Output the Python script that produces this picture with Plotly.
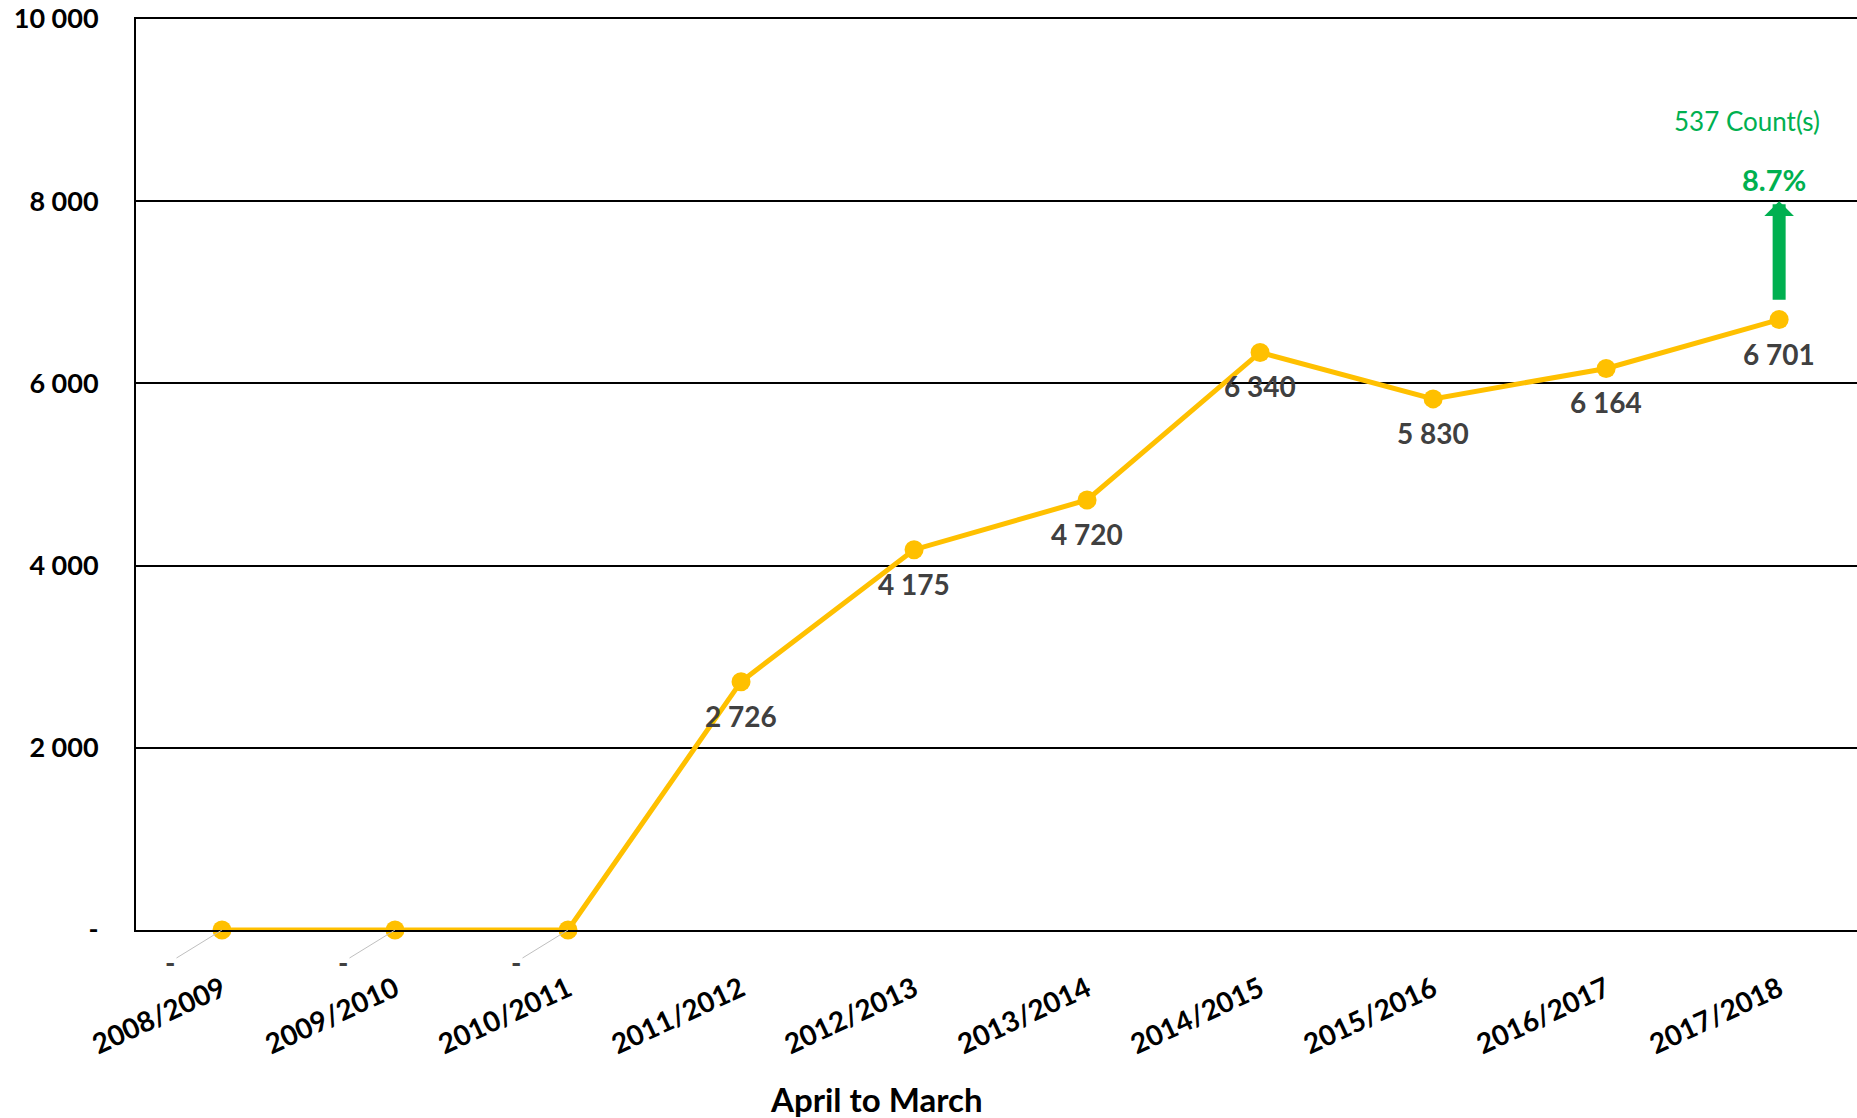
import plotly.graph_objects as go

categories = ["2008/2009", "2009/2010", "2010/2011", "2011/2012", "2012/2013",
              "2013/2014", "2014/2015", "2015/2016", "2016/2017", "2017/2018"]
values = [0, 0, 0, 2726, 4175, 4720, 6340, 5830, 6164, 6701]
y_tickvals = [0, 2000, 4000, 6000, 8000, 10000]
y_ticktext = ["-", "2 000", "4 000", "6 000", "8 000", "10 000"]

FONT = "Lato, 'Open Sans', sans-serif"
GOLD = "#FFC000"
GREEN = "#00B050"
LABEL = "#404040"


def fmt(v):
    return "-" if v == 0 else f"{v:,}".replace(",", " ")


fig = go.Figure()
fig.add_trace(go.Scatter(
    x=categories, y=values, mode="lines+markers",
    line=dict(color=GOLD, width=5),
    marker=dict(color=GOLD, size=19),
    cliponaxis=False, hoverinfo="x+y", showlegend=False,
))

annotations = []
for c, v in zip(categories, values):
    if v == 0:
        annotations.append(dict(
            x=c, y=v, text="<b>-</b>", showarrow=True, ax=-52, ay=32,
            arrowhead=0, arrowwidth=1, arrowcolor="#BFBFBF",
            font=dict(family=FONT, size=28, color=LABEL)))
    else:
        annotations.append(dict(
            x=c, y=v, text=f"<b>{fmt(v)}</b>", showarrow=False, yshift=-34,
            font=dict(family=FONT, size=28, color=LABEL)))

diff = values[-1] - values[-2]
pct = diff / values[-2] * 100
annotations += [
    dict(x=categories[-1], y=8000, text="", showarrow=True, ax=0, ay=100,
         arrowhead=1, arrowwidth=13, arrowsize=0.38, arrowcolor=GREEN),
    dict(x=categories[-1], y=8233, text=f"<b>{pct:.1f}%</b>", showarrow=False,
         xshift=-5, font=dict(family=FONT, size=29, color=GREEN)),
    dict(x=categories[-1], y=8880, text=f"{diff} Count(s)", showarrow=False,
         xshift=-32, font=dict(family=FONT, size=26, color=GREEN)),
    dict(xref="paper", yref="paper", x=0.43, y=-0.1855, yanchor="middle",
         text="<b>April to March</b>", showarrow=False,
         font=dict(family=FONT, size=33, color="black")),
]

fig.update_layout(
    width=1857, height=1118,
    margin=dict(l=136, r=0, t=19, b=188),
    paper_bgcolor="white", plot_bgcolor="white",
    annotations=annotations,
    xaxis=dict(
        type="category", range=[-0.497, 9.45],
        showline=True, linecolor="black", linewidth=2, mirror=True,
        showgrid=False, ticks="", tickangle=-25, ticklabelstandoff=30,
        tickfont=dict(family=FONT, size=28, color="black", weight="bold"),
    ),
    yaxis=dict(
        range=[0, 10000], tickvals=y_tickvals, ticktext=y_ticktext,
        showline=True, linecolor="black", linewidth=2,
        showgrid=True, gridcolor="black", gridwidth=1.5,
        zeroline=False, ticks="", ticklabelstandoff=30,
        tickfont=dict(family=FONT, size=27, color="black", weight="bold"),
    ),
)

fig.write_html(
    "out.html",
    config={"displayModeBar": False},
    post_script="document.body.style.margin='0';document.body.style.overflow='hidden';",
)
